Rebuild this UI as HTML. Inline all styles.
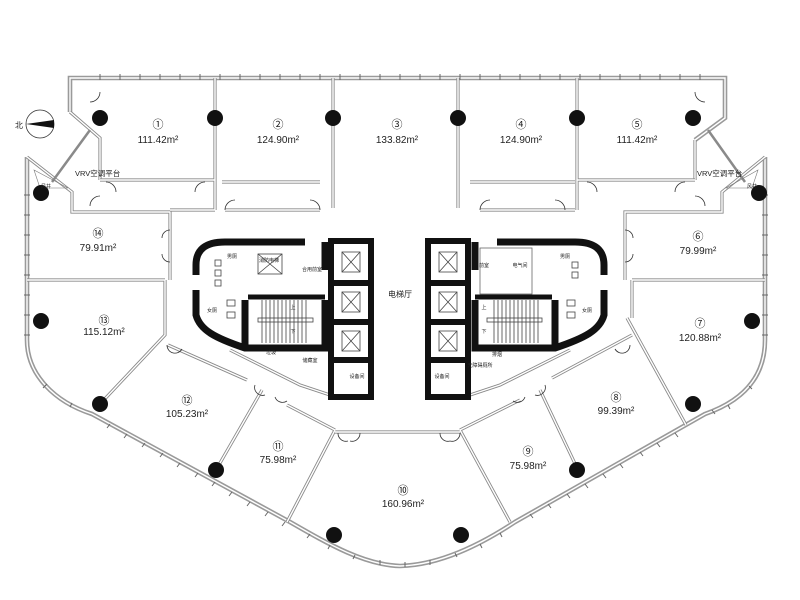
<!DOCTYPE html>
<html><head><meta charset="utf-8"><style>
html,body{margin:0;padding:0;background:#fff;}
svg{display:block;}
text{font-family:"Liberation Sans","Noto Sans CJK SC",sans-serif;fill:#222;}
.ow{fill:none;stroke:#9a9a9a;stroke-width:4.6;}
.owi{fill:none;stroke:#fff;stroke-width:1.4;}
.pw{fill:none;stroke:#8a8a8a;stroke-width:3.2;}
.pwi{fill:none;stroke:#fff;stroke-width:1.4;}
.bk{fill:none;stroke:#111;stroke-width:7;}
.th{fill:none;stroke:#333;stroke-width:0.8;}
.rn{font-size:11px;text-anchor:middle;}
.ra{font-size:10px;text-anchor:middle;}
.sm{font-size:5px;text-anchor:middle;}
.lb{font-size:8px;text-anchor:middle;}
</style></head><body>
<svg width="800" height="600" viewBox="0 0 800 600" xmlns="http://www.w3.org/2000/svg">
<!-- outer wall -->
<g>
<path d="M70,112 L70,78 L725,78 L725,118 L695,140 M27,157 L27,340 C27,375 55,402 92,414 L290,522 C330,545 365,565 400,566 C440,565 480,545 515,522 L705,414 C745,400 765,375 765,340 L765,157" class="ow"/>
<path d="M70,112 L70,78 L725,78 L725,118 L695,140 M27,157 L27,340 C27,375 55,402 92,414 L290,522 C330,545 365,565 400,566 C440,565 480,545 515,522 L705,414 C745,400 765,375 765,340 L765,157" class="owi"/>
</g>
<!-- window ticks -->
<g stroke="#666" stroke-width="1">
<path d="M100,74v6M120,74v6M140,74v6M160,74v6M180,74v6M200,74v6M220,74v6M240,74v6M260,74v6M280,74v6M300,74v6M320,74v6M340,74v6M360,74v6M380,74v6M400,74v6M420,74v6M440,74v6M460,74v6M480,74v6M500,74v6M520,74v6M540,74v6M560,74v6M580,74v6M600,74v6M620,74v6M640,74v6M660,74v6M680,74v6M700,74v6"/>
<path d="M24,195h6M24,215h6M24,235h6M24,255h6M24,275h6M24,295h6M24,315h6M24,335h6M762,195h6M762,215h6M762,235h6M762,255h6M762,275h6M762,295h6M762,315h6M762,335h6"/>
<path d="M47,384l-4,4M72,403l-2,4M110,424l-3,4M127,434l-3,4M145,443l-3,4M163,453l-3,4M180,463l-3,4M198,473l-3,4M215,482l-3,4M232,492l-3,4M250,502l-3,4M268,512l-3,4M285,522l-3,4M310,534l-3,4M330,545l-2,4M355,555l-2,4M380,560v5M405,562v5M430,560v5M455,553l2,4M480,544l2,4M500,533l2,4M530,514l3,4M548,504l3,4M567,494l3,4M585,484l3,4M603,474l3,4M620,464l3,4M640,452l3,4M657,443l3,4M675,433l3,4M712,410l3,4M728,405l2,4M749,386l3,3"/>
</g>
<!-- VRV platforms -->
<g>
<path d="M70,112 L100,138 L100,180 M27,157 L72,192 L72,212 L170,212 L170,280" class="pw"/>
<path d="M70,112 L100,138 L100,180 M27,157 L72,192 L72,212 L170,212 L170,280" class="pwi"/>
<path d="M695,140 L695,180 M765,157 L722,192 L722,212 L625,212 L625,280" class="pw"/>
<path d="M695,140 L695,180 M765,157 L722,192 L722,212 L625,212 L625,280" class="pwi"/>
<line x1="90" y1="130" x2="52" y2="182" stroke="#8a8a8a" stroke-width="2.5"/>
<line x1="708" y1="130" x2="745" y2="182" stroke="#8a8a8a" stroke-width="2.5"/>
<path d="M34,170 L68,188 L40,188Z M758,170 L726,188 L752,188Z" fill="none" stroke="#777" stroke-width="0.6"/>
</g>
<!-- partitions -->
<g>
<path d="M215,78 V182 M333,78 V208 M458,78 V208 M577,78 V182 M100,180 H215 M577,180 H695 M215,182 V210 M577,182 V210 M222,182 H320 M470,182 H575 M225,210 H320 M480,210 H575 M170,210 H215" class="pw"/>
<path d="M215,78 V182 M333,78 V208 M458,78 V208 M577,78 V182 M100,180 H215 M577,180 H695 M215,182 V210 M577,182 V210 M222,182 H320 M470,182 H575 M225,210 H320 M480,210 H575 M170,210 H215" class="pwi"/>
<path d="M27,280 H165 M165,280 V335 L100,404 M168,345 L247,380 M262,390 L216,470 M287,405 L335,430 M335,430 L287,522 M335,432 H460 M460,430 L510,522 M460,430 L520,400 M540,390 L578,470 M552,378 L632,335 M627,318 L686,425 M632,280 V318 M632,280 H765 M230,350 L300,385 L330,395 M570,350 L500,385 L470,395" class="pw"/>
<path d="M27,280 H165 M165,280 V335 L100,404 M168,345 L247,380 M262,390 L216,470 M287,405 L335,430 M335,430 L287,522 M335,432 H460 M460,430 L510,522 M460,430 L520,400 M540,390 L578,470 M552,378 L632,335 M627,318 L686,425 M632,280 V318 M632,280 H765 M230,350 L300,385 L330,395 M570,350 L500,385 L470,395" class="pwi"/>
</g>
<!-- door arcs -->
<g class="th" stroke="#666">
<path d="M100,92 a10,10 0 0 1 -10,10 M106,182 a10,10 0 0 1 10,10 M205,182 a10,10 0 0 0 -10,10 M225,210 a10,10 0 0 1 10,-10 M320,210 a10,10 0 0 0 -10,-10 M480,210 a10,10 0 0 1 10,-10 M565,210 a10,10 0 0 0 -10,-10 M587,182 a10,10 0 0 1 10,10 M685,182 a10,10 0 0 0 -10,10 M695,92 a10,10 0 0 0 10,10 M100,196 a10,10 0 0 0 -10,10 M695,196 a10,10 0 0 1 10,10 M170,230 a8,8 0 0 0 -8,8 M625,230 a8,8 0 0 1 8,8 M170,262 a8,8 0 0 1 -8,-8 M625,262 a8,8 0 0 0 8,-8 M167,345 a8,8 0 0 0 15,4 M630,345 a8,8 0 0 1 -15,4 M255,385 a8,8 0 0 0 10,10 M545,385 a8,8 0 0 1 -10,10 M275,397 a8,8 0 0 0 12,4 M525,397 a8,8 0 0 1 -12,4 M338,433 a8,8 0 0 0 10,8 M360,433 a8,8 0 0 1 -10,8 M440,433 a8,8 0 0 0 10,8 M460,433 a8,8 0 0 1 -10,8"/>
</g>
<!-- cores -->
<g>
<path d="M305,242 H225 C205,242 196,250 196,265 V275 M196,290 V315 C200,330 215,338 245,348 H325 V300 M325,270 V242 M245,300 V348" class="bk"/>
<path d="M248,297 H325" stroke="#111" stroke-width="5"/>
<rect x="331" y="241" width="40" height="156" fill="none" stroke="#111" stroke-width="6"/>
<path d="M331,283 H371 M331,322 H371 M331,360 H371" stroke="#111" stroke-width="6"/>
<path d="M497,242 H575 C595,242 604,250 604,265 V275 M604,290 V315 C600,330 585,338 555,348 H475 V300 M475,270 V242 M555,300 V348" class="bk"/>
<path d="M475,297 H552" stroke="#111" stroke-width="5"/>
<rect x="428" y="241" width="40" height="156" fill="none" stroke="#111" stroke-width="6"/>
<path d="M428,283 H468 M428,322 H468 M428,360 H468" stroke="#111" stroke-width="6"/>
</g>
<g fill="none" stroke="#444" stroke-width="0.8">
<rect x="342" y="252" width="18" height="20"/><path d="M342,252 l18,20 M360,252 l-18,20"/>
<rect x="342" y="292" width="18" height="20"/><path d="M342,292 l18,20 M360,292 l-18,20"/>
<rect x="342" y="331" width="18" height="20"/><path d="M342,331 l18,20 M360,331 l-18,20"/>
<rect x="439" y="252" width="18" height="20"/><path d="M439,252 l18,20 M457,252 l-18,20"/>
<rect x="439" y="292" width="18" height="20"/><path d="M439,292 l18,20 M457,292 l-18,20"/>
<rect x="439" y="331" width="18" height="20"/><path d="M439,331 l18,20 M457,331 l-18,20"/>
<rect x="258" y="254" width="24" height="20"/><path d="M258,254 l24,20 M282,254 l-24,20"/>
<path d="M262,300 V343 M266,300 V343 M270,300 V343 M274,300 V343 M278,300 V343 M282,300 V343 M286,300 V343 M290,300 V343 M294,300 V343 M298,300 V343 M302,300 V343 M306,300 V343"/>
<rect x="258" y="318" width="55" height="4"/>
<path d="M494,300 V343 M498,300 V343 M502,300 V343 M506,300 V343 M510,300 V343 M514,300 V343 M518,300 V343 M522,300 V343 M526,300 V343 M530,300 V343 M534,300 V343 M538,300 V343"/>
<rect x="487" y="318" width="55" height="4"/>
<rect x="480" y="248" width="52" height="46" stroke="#666"/>
<rect x="215" y="260" width="6" height="6"/><rect x="215" y="270" width="6" height="6"/><rect x="215" y="280" width="6" height="6"/>
<rect x="572" y="262" width="6" height="6"/><rect x="572" y="272" width="6" height="6"/>
<rect x="227" y="300" width="8" height="6"/><rect x="227" y="312" width="8" height="6"/>
<rect x="567" y="300" width="8" height="6"/><rect x="567" y="312" width="8" height="6"/>
</g>
<!-- columns -->
<g fill="#111">
<circle cx="100" cy="118" r="8"/><circle cx="215" cy="118" r="8"/><circle cx="333" cy="118" r="8"/><circle cx="458" cy="118" r="8"/><circle cx="577" cy="118" r="8"/><circle cx="693" cy="118" r="8"/>
<circle cx="41" cy="193" r="8"/><circle cx="759" cy="193" r="8"/>
<circle cx="41" cy="321" r="8"/><circle cx="752" cy="321" r="8"/>
<circle cx="100" cy="404" r="8"/><circle cx="693" cy="404" r="8"/>
<circle cx="216" cy="470" r="8"/><circle cx="577" cy="470" r="8"/>
<circle cx="334" cy="535" r="8"/><circle cx="461" cy="535" r="8"/>
</g>
<circle cx="40" cy="124" r="14" fill="#fff" stroke="#333" stroke-width="0.8"/>
<path d="M26,124 L54,120 L54,128 Z" fill="#111"/>
<text x="15" y="128" font-size="8">北</text>
<g>
<text class="rn" x="158" y="128">①</text><text class="ra" x="158" y="143">111.42m²</text>
<text class="rn" x="278" y="128">②</text><text class="ra" x="278" y="143">124.90m²</text>
<text class="rn" x="397" y="128">③</text><text class="ra" x="397" y="143">133.82m²</text>
<text class="rn" x="521" y="128">④</text><text class="ra" x="521" y="143">124.90m²</text>
<text class="rn" x="637" y="128">⑤</text><text class="ra" x="637" y="143">111.42m²</text>
<text class="rn" x="698" y="240">⑥</text><text class="ra" x="698" y="254">79.99m²</text>
<text class="rn" x="700" y="327">⑦</text><text class="ra" x="700" y="341">120.88m²</text>
<text class="rn" x="616" y="401">⑧</text><text class="ra" x="616" y="414">99.39m²</text>
<text class="rn" x="528" y="455">⑨</text><text class="ra" x="528" y="469">75.98m²</text>
<text class="rn" x="403" y="494">⑩</text><text class="ra" x="403" y="507">160.96m²</text>
<text class="rn" x="278" y="450">⑪</text><text class="ra" x="278" y="463">75.98m²</text>
<text class="rn" x="187" y="404">⑫</text><text class="ra" x="187" y="417">105.23m²</text>
<text class="rn" x="104" y="324">⑬</text><text class="ra" x="104" y="335">115.12m²</text>
<text class="rn" x="98" y="237">⑭</text><text class="ra" x="98" y="251">79.91m²</text>
<text x="75" y="176" font-size="7.5">VRV空调平台</text>
<text x="697" y="176" font-size="7.5">VRV空调平台</text>
<text class="lb" x="400" y="297">电梯厅</text>
<text class="sm" x="312" y="271">合用前室</text>
<text class="sm" x="484" y="267">前室</text>
<text class="sm" x="520" y="267">电气间</text>
<text class="sm" x="269" y="262">消防电梯</text>
<text class="sm" x="310" y="362">储藏室</text>
<text class="sm" x="271" y="354">垃圾</text>
<text class="sm" x="357" y="378">设备间</text>
<text class="sm" x="442" y="378">设备间</text>
<text class="sm" x="480" y="367">无障碍厕所</text>
<text class="sm" x="497" y="356">排烟</text>
<text class="sm" x="232" y="258">男厕</text>
<text class="sm" x="565" y="258">男厕</text>
<text class="sm" x="212" y="312">女厕</text>
<text class="sm" x="587" y="312">女厕</text>
<text class="sm" x="293" y="309">上</text><text class="sm" x="293" y="333">下</text>
<text class="sm" x="484" y="309">上</text><text class="sm" x="484" y="333">下</text>
<text class="sm" x="46" y="188">风井</text><text class="sm" x="752" y="188">风井</text>
</g>
</svg>
</body></html>
